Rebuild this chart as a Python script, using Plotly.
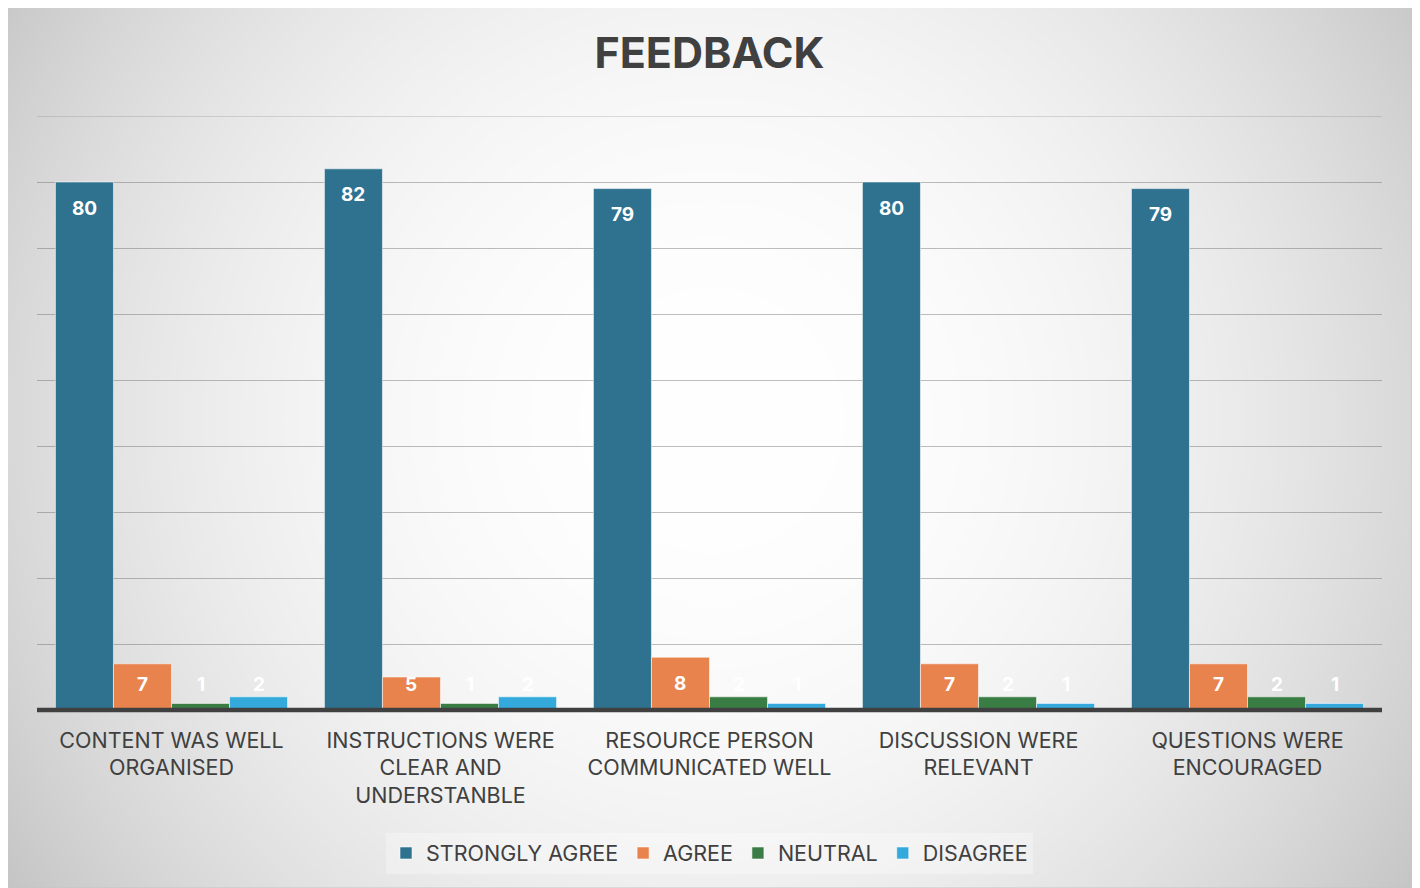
import base64
import struct
import zlib

import numpy as np
import plotly.graph_objects as go

# ---------------- data ----------------
categories = [
    "CONTENT WAS WELL<br>ORGANISED",
    "INSTRUCTIONS WERE<br>CLEAR AND<br>UNDERSTANBLE",
    "RESOURCE PERSON<br>COMMUNICATED WELL",
    "DISCUSSION WERE<br>RELEVANT",
    "QUESTIONS WERE<br>ENCOURAGED",
]
series_names = ["STRONGLY AGREE", "AGREE", "NEUTRAL", "DISAGREE"]
strongly_agree = [80, 82, 79, 80, 79]
agree = [7, 5, 8, 7, 7]
neutral = [1, 1, 2, 2, 2]
disagree = [2, 2, 1, 1, 1]
y_ticks = [0, 10, 20, 30, 40, 50, 60, 70, 80, 90]

series_values = [strongly_agree, agree, neutral, disagree]
colors = ["#2F7290", "#E8834E", "#3A7D44", "#34AADC"]

# ---------------- geometry (page has an 8px body margin) ----------------
OFF = 8
W, H = 1420 - OFF, 888 - OFF
ML, MT = 37 - OFF, 116 - OFF
PW, PH = 1345, 594
MR = W - ML - PW
MB = H - MT - PH
YMAX = 90
BARGAP = 0.137
px_per_unit = PH / YMAX
GRID = "rgba(100,100,100,0.42)"

# ---------------- background gradient image ----------------
cx0, cy0, cw, ch = 6 - OFF, 3 - OFF, 1406, 885
iw, ih = 703, 443
yy, xx = np.mgrid[0:ih, 0:iw]
gx = cx0 + (xx + 0.5) * cw / iw
gy = cy0 + (yy + 0.5) * ch / ih
d = np.hypot(gx - (712 - OFF), gy - (420 - OFF))
b = 255 - 57 * np.clip(d / 840, 0, 1.2) ** 2.2
img = np.clip(b, 0, 255).astype(np.uint8)
raw = b"".join(b"\x00" + img[r].tobytes() for r in range(ih))


def chunk(tag, data):
    c = struct.pack(">I", len(data)) + tag + data
    return c + struct.pack(">I", zlib.crc32(tag + data) & 0xFFFFFFFF)


png = (b"\x89PNG\r\n\x1a\n"
       + chunk(b"IHDR", struct.pack(">IIBBBBB", iw, ih, 8, 0, 0, 0, 0))
       + chunk(b"IDAT", zlib.compress(raw, 9))
       + chunk(b"IEND", b""))
bg_uri = "data:image/png;base64," + base64.b64encode(png).decode()

# ---------------- figure ----------------
fig = go.Figure()
for name, vals, col in zip(series_names, series_values, colors):
    fig.add_trace(go.Bar(
        x=categories, y=vals, name=name,
        marker=dict(color=col, line=dict(color="rgba(255,255,255,0.55)", width=1)),
        hoverinfo="skip",
    ))

# data labels
bw = (1 - BARGAP) / len(series_names)
annotations = []
min_lab = 26 / px_per_unit
for si, vals in enumerate(series_values):
    for ci, v in enumerate(vals):
        annotations.append(dict(
            x=ci + (si - 1.5) * bw, y=max(v - min_lab, min_lab),
            xref="x", yref="y", text=f"<b>{v}</b>", showarrow=False,
            yanchor="middle", xanchor="center",
            font=dict(family="Inter", size=19, color="white"),
        ))

fig.update_layout(
    width=W, height=H,
    margin=dict(l=ML, r=MR, t=MT, b=MB, pad=0),
    paper_bgcolor="white",
    plot_bgcolor="rgba(0,0,0,0)",
    barmode="group", bargap=BARGAP, bargroupgap=0,
    title=dict(text="<b>FEEDBACK</b>", x=0.5, xref="paper", xanchor="center",
               y=1 - (53 - OFF) / H, yref="container", yanchor="middle",
               font=dict(family="Inter", size=43, color="#404040")),
    font=dict(family="Inter", color="#404040"),
    xaxis=dict(type="category", showgrid=False, ticks="", showline=False,
               tickfont=dict(family="Inter", size=21.5, color="#404040"),
               ticklabelstandoff=15, fixedrange=True),
    yaxis=dict(range=[0, YMAX], tickvals=y_ticks, showticklabels=False,
               showgrid=True, gridcolor=GRID, gridwidth=1,
               zeroline=False, showline=False, fixedrange=True),
    legend=dict(orientation="h", x=0.5, xanchor="center",
                y=-((853 - OFF) - (MT + PH)) / PH, yanchor="middle",
                bgcolor="rgba(255,255,255,0.3)",
                font=dict(family="Inter", size=21.5, color="#404040"),
                itemclick=False, itemdoubleclick=False,
                itemwidth=30, traceorder="normal"),
    annotations=annotations,
    images=[dict(source=bg_uri, xref="paper", yref="paper",
                 x=(cx0 - ML) / PW, y=1 + (MT - cy0) / PH,
                 sizex=cw / PW, sizey=ch / PH,
                 xanchor="left", yanchor="top", sizing="stretch",
                 layer="below")],
    shapes=[
        dict(type="rect", xref="paper", yref="paper",
             x0=(cx0 - ML) / PW, x1=(cx0 + cw - ML) / PW,
             y0=1 - (cy0 + ch - MT) / PH, y1=1 + (MT - cy0) / PH,
             line=dict(color="#c4c4c4", width=1), layer="below"),
        dict(type="line", xref="paper", yref="y", x0=0, x1=1,
             y0=YMAX, y1=YMAX, line=dict(color=GRID, width=1), layer="below"),
        dict(type="line", xref="paper", yref="paper", x0=0, x1=1, y0=0, y1=0,
             line=dict(color="#404040", width=4.5), layer="above"),
    ],
    showlegend=True,
)

fig.write_html("out.html")
